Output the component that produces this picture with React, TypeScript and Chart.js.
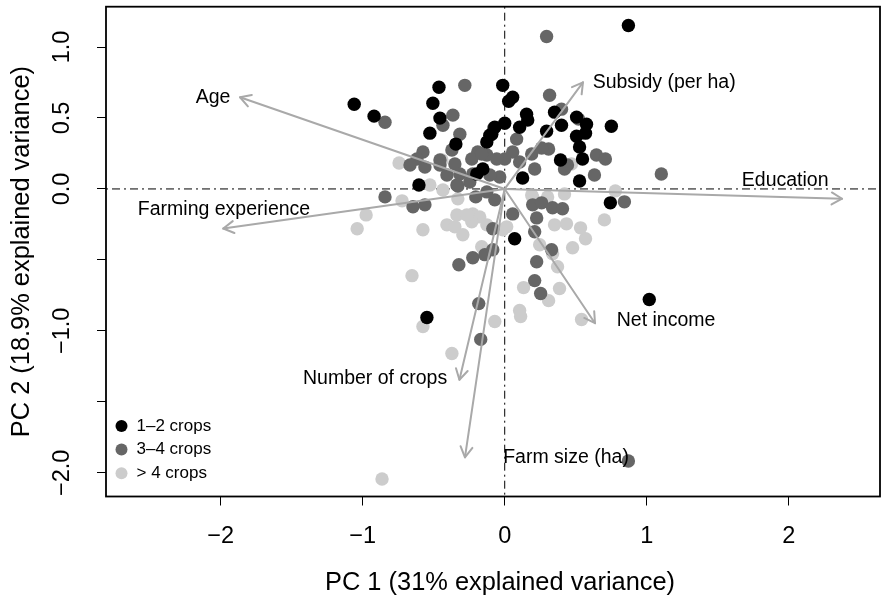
import React, { useEffect, useRef } from "react";
import { Chart, registerables } from "chart.js";

Chart.register(...registerables);

// ---- Data ----
const groupLabels = ["1–2 crops", "3–4 crops", "> 4 crops"];
const groupColors = ["#000000", "#666666", "#cccccc"];

const pc1Crops12 = [0.871, -1.06, -0.92, -0.463, -0.014, 0.056, 0.028, -0.506, -0.456, -0.527, -0.344, -0.126, -0.091, 0.0, 0.154, 0.162, 0.351, 0.506, 0.576, 0.751, 0.105, 0.295, 0.4, 0.506, 0.569, 0.527, 0.548, 0.393, -0.154, -0.197, 0.126, 0.527, -0.604, 0.744, 0.07, -0.548, 1.018, -0.07, -0.105];
const pc2Crops12 = [1.152, 0.597, 0.513, 0.716, 0.73, 0.646, 0.618, 0.604, 0.499, 0.393, 0.316, 0.33, 0.386, 0.463, 0.527, 0.485, 0.541, 0.506, 0.456, 0.442, 0.435, 0.407, 0.449, 0.372, 0.393, 0.295, 0.211, 0.204, 0.14, 0.105, 0.077, 0.056, 0.028, -0.098, -0.351, -0.906, -0.779, 0.435, 0.379];

const pc1Crops34 = [0.295, -0.281, -0.843, -0.365, -0.435, -0.316, -0.372, 0.316, 0.4, 0.52, 0.084, 0.309, 0.646, 0.709, 0.056, 0.0, 0.105, 0.19, 0.26, 0.211, 0.421, 0.442, 0.632, 1.103, -0.077, -0.576, -0.618, -0.667, -0.562, -0.456, -0.351, -0.407, -0.316, -0.19, -0.126, -0.056, -0.225, -0.035, -0.105, -0.337, -0.246, -0.843, -0.646, -0.562, -0.33, -0.204, -0.126, -0.07, 0.056, -0.084, 0.197, 0.26, 0.337, 0.407, 0.225, 0.211, 0.33, 0.225, 0.211, 0.253, -0.225, -0.14, -0.084, -0.323, -0.183, -0.169, 0.843, 0.871, -0.232, -0.162, -0.456];
const pc2Crops34 = [1.074, 0.73, 0.47, 0.52, 0.449, 0.386, 0.274, 0.66, 0.562, 0.492, 0.351, 0.281, 0.239, 0.211, 0.26, 0.211, 0.19, 0.246, 0.288, 0.14, 0.14, 0.169, 0.098, 0.105, 0.428, 0.26, 0.211, 0.169, 0.154, 0.169, 0.176, 0.098, 0.105, 0.26, 0.239, 0.211, 0.105, 0.084, 0.098, 0.028, 0.049, -0.056, -0.126, -0.112, 0.021, -0.056, -0.021, -0.077, -0.176, -0.281, -0.112, -0.098, -0.133, -0.14, -0.204, -0.302, -0.428, -0.513, -0.646, -0.737, -0.485, -0.463, -0.428, -0.534, -0.808, -1.06, -0.091, -1.917, 0.211, 0.246, 0.204];

const pc1Crops5 = [-0.744, -0.442, -0.527, -0.723, -0.976, -1.039, -0.576, -0.435, -0.33, -0.337, -0.407, -0.351, -0.295, -0.225, -0.176, -0.232, -0.126, -0.014, -0.162, -0.653, -0.576, -0.372, -0.07, 0.112, 0.133, 0.309, 0.386, 0.246, 0.337, 0.372, 0.478, 0.569, 0.534, 0.435, 0.351, 0.302, 0.197, 0.421, 0.702, 0.779, 0.541, 0.014, 0.105, 0.47, -0.864, -0.267, 0.19];
const pc2Crops5 = [0.183, 0.204, 0.028, -0.084, -0.183, -0.281, -0.288, -0.007, -0.07, -0.183, -0.253, -0.267, -0.323, -0.176, -0.197, -0.232, -0.253, -0.288, -0.407, -0.611, -0.969, -1.159, -0.934, -0.899, -0.695, -0.787, -0.702, -0.393, -0.456, -0.548, -0.414, -0.351, -0.274, -0.246, -0.253, -0.056, -0.056, -0.035, -0.218, -0.014, -0.92, -0.267, -0.857, 0.176, -2.044, -0.183, -0.042];

const loadingNames = ["Age", "Farming experience", "Subsidy (per ha)", "Education", "Net income", "Number of crops", "Farm size (ha)"];
const loadingPC1 = [-1.864, -1.982, 0.551, 2.376, 0.636, -0.319, -0.28];
const loadingPC2 = [0.646, -0.279, 0.751, -0.069, -0.946, -1.344, -1.891];
const loadingLabelPC1 = [-2.054, -1.977, 1.123, 1.975, 1.136, -0.913, 0.432];
const loadingLabelPC2 = [0.646, -0.146, 0.751, 0.058, -0.927, -1.334, -1.894];

const xAxisTitle = "PC 1 (31% explained variance)";
const yAxisTitle = "PC 2 (18.9% explained variance)";
const yHiddenTickLabels = [-0.5, -1.5];

const FONT = '"Liberation Sans", Arial, Helvetica, sans-serif';

function toPoints(xs: number[], ys: number[]) {
  return xs.map((x, i) => ({ x, y: ys[i] }));
}

function fmtNum(v: number, digits: number) {
  const s = Math.abs(v).toFixed(digits);
  return v < -1e-9 ? "\u2212" + s : s;
}

const biplotPlugin = {
  id: "biplotExtras",
  beforeDatasetsDraw(chart: any) {
    const { ctx, chartArea, scales } = chart;
    const x0 = scales.x.getPixelForValue(0);
    const y0 = scales.y.getPixelForValue(0);
    ctx.save();
    ctx.strokeStyle = "#000";
    ctx.lineWidth = 1;
    ctx.setLineDash([2, 4, 8, 4]);
    ctx.beginPath();
    ctx.moveTo(chartArea.left, y0);
    ctx.lineTo(chartArea.right, y0);
    ctx.stroke();
    ctx.beginPath();
    ctx.moveTo(x0, chartArea.top);
    ctx.lineTo(x0, chartArea.bottom);
    ctx.stroke();
    ctx.restore();
  },
  afterDatasetsDraw(chart: any) {
    const { ctx, scales } = chart;
    const ox = scales.x.getPixelForValue(0);
    const oy = scales.y.getPixelForValue(0);
    ctx.save();
    ctx.strokeStyle = "#a9a9a9";
    ctx.lineWidth = 2;
    ctx.lineCap = "round";
    ctx.lineJoin = "round";
    const head = 12;
    const a = Math.PI / 6;
    loadingPC1.forEach((lx, i) => {
      const tx = scales.x.getPixelForValue(lx);
      const ty = scales.y.getPixelForValue(loadingPC2[i]);
      ctx.beginPath();
      ctx.moveTo(ox, oy);
      ctx.lineTo(tx, ty);
      ctx.stroke();
      const ang = Math.atan2(ty - oy, tx - ox);
      ctx.beginPath();
      ctx.moveTo(tx - head * Math.cos(ang - a), ty - head * Math.sin(ang - a));
      ctx.lineTo(tx, ty);
      ctx.lineTo(tx - head * Math.cos(ang + a), ty - head * Math.sin(ang + a));
      ctx.stroke();
    });
    ctx.fillStyle = "#000";
    ctx.font = `19.5px ${FONT}`;
    ctx.textAlign = "center";
    ctx.textBaseline = "middle";
    loadingNames.forEach((name, i) => {
      const px = scales.x.getPixelForValue(loadingLabelPC1[i]);
      const py = scales.y.getPixelForValue(loadingLabelPC2[i]);
      ctx.fillText(name, px, py);
    });
    ctx.restore();
  },
  afterDraw(chart: any) {
    const { ctx, chartArea } = chart;
    ctx.save();
    ctx.strokeStyle = "#000";
    ctx.lineWidth = 1.8;
    ctx.strokeRect(chartArea.left, chartArea.top, chartArea.right - chartArea.left, chartArea.bottom - chartArea.top);
    // legend (bottom-left, inside plot, no box)
    const lx = chartArea.left + 15.5;
    const rowH = 23.6;
    const firstY = chartArea.bottom - 70.5;
    ctx.font = `17px ${FONT}`;
    ctx.textAlign = "left";
    ctx.textBaseline = "middle";
    groupLabels.forEach((lab, i) => {
      const y = firstY + i * rowH;
      ctx.beginPath();
      ctx.fillStyle = groupColors[i];
      ctx.arc(lx, y, 6, 0, Math.PI * 2);
      ctx.fill();
      ctx.fillStyle = "#000";
      ctx.fillText(lab, lx + 15, y);
    });
    ctx.restore();
  },
};

export default function App() {
  const canvasRef = useRef<HTMLCanvasElement | null>(null);

  useEffect(() => {
    if (!canvasRef.current) return;
    const series = [
      toPoints(pc1Crops12, pc2Crops12),
      toPoints(pc1Crops34, pc2Crops34),
      toPoints(pc1Crops5, pc2Crops5),
    ];
    const chart = new Chart(canvasRef.current, {
      type: "scatter",
      data: {
        datasets: series.map((pts, i) => ({
          label: groupLabels[i],
          data: pts,
          backgroundColor: groupColors[i],
          borderWidth: 0,
          pointRadius: 6.7,
          pointHoverRadius: 6.7,
        })),
      },
      options: {
        animation: false,
        responsive: false,
        events: [],
        layout: { padding: { top: 4, right: 14, bottom: 0, left: 0 } },
        plugins: {
          legend: { display: false },
          tooltip: { enabled: false },
        },
        scales: {
          x: {
            type: "linear",
            min: -2.808,
            max: 2.643,
            afterFit(scale: any) {
              scale.height = 98.5;
              scale.paddingLeft = 0;
              scale.paddingRight = 0;
            },
            border: { display: false },
            grid: {
              display: true,
              drawOnChartArea: false,
              drawTicks: true,
              tickLength: 9,
              tickColor: "#000",
              tickWidth: 1,
            },
            ticks: {
              stepSize: 1,
              includeBounds: false,
              autoSkip: false,
              maxRotation: 0,
              padding: 17.4,
              color: "#000",
              font: { family: FONT, size: 23.5 },
              callback: (v: any) => fmtNum(Number(v), 0),
            },
            title: {
              display: true,
              text: "\u00A0\u00A0" + xAxisTitle,
              color: "#000",
              font: { family: FONT, size: 25.4, lineHeight: 0.94 },
              padding: { top: 0, bottom: 0 },
            },
          },
          y: {
            type: "linear",
            min: -2.167,
            max: 1.284,
            afterFit(scale: any) {
              scale.width = 106;
              scale.paddingTop = 0;
              scale.paddingBottom = 0;
            },
            border: { display: false },
            grid: {
              display: true,
              drawOnChartArea: false,
              drawTicks: true,
              tickLength: 9,
              tickColor: "#000",
              tickWidth: 1,
            },
            ticks: {
              stepSize: 0.5,
              includeBounds: false,
              autoSkip: false,
              minRotation: 90,
              maxRotation: 90,
              crossAlign: "center",
              padding: 10.8,
              color: "#000",
              font: { family: FONT, size: 23.5 },
              callback: (v: any) => {
                const n = Number(v);
                if (yHiddenTickLabels.some((h) => Math.abs(h - n) < 1e-9)) return "";
                return fmtNum(n, 1);
              },
            },
            title: {
              display: true,
              text: yAxisTitle,
              color: "#000",
              font: { family: FONT, size: 25.4, lineHeight: 0.94 },
              padding: { top: 9.8, bottom: 0 },
            },
          },
        },
      },
      plugins: [biplotPlugin],
    } as any);
    return () => chart.destroy();
  }, []);

  return (
    <div style={{ position: "fixed", left: 0, top: 0, width: 894, height: 595, background: "#fff" }}>
      <canvas ref={canvasRef} width={894} height={595} style={{ display: "block" }} />
    </div>
  );
}
